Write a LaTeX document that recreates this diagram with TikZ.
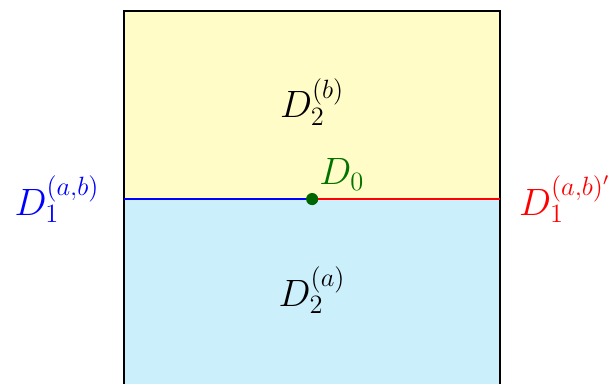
\documentclass[tikz,border=0pt]{standalone}
\usetikzlibrary{positioning}
\tikzset{
  upper/.style={fill=yellow!22},
  lower/.style={fill=cyan!20},
  cut/.style={line width=1pt},
  dot/.style={circle,fill=green!40!black,inner sep=0pt,minimum size=5.5pt},
  lbl/.style={inner sep=1pt,font=\fontsize{16.6}{20}\selectfont},
}
\begin{document}
\begin{tikzpicture}
  \useasboundingbox (-4.98,-2.936) rectangle (4.72,3.176);
  % the two halves
  \fill[upper] (-3,0) rectangle (3,3);
  \fill[lower] (-3,-3) rectangle (3,0);
  \draw[line width=1pt] (-3,-3) rectangle (3,3);
  % interface
  \coordinate (west) at (-3,0);
  \coordinate (east) at (3,0);
  \coordinate (o) at (0,0);
  \draw[cut,blue] (west) -- (o);
  \draw[cut,red] (o) -- (east);
  \node[dot] (d0) at (o) {};
  % labels
  \node[lbl] (d2b) at (0,1.55) {$D_2^{(b)}$};
  \node[lbl] (d2a) at (0,-1.45) {$D_2^{(a)}$};
  \node[lbl,text=green!45!black,above right=0.2mm and 0mm of d0] (d0lbl) {$D_0$};
  \node[lbl,text=blue,left=3.5mm of west] (d1l) {$D_1^{(a,b)}$};
  \node[lbl,text=red,right=2.6mm of east] (d1r) {$D_1^{(a,b)'}$};
\end{tikzpicture}
\end{document}
